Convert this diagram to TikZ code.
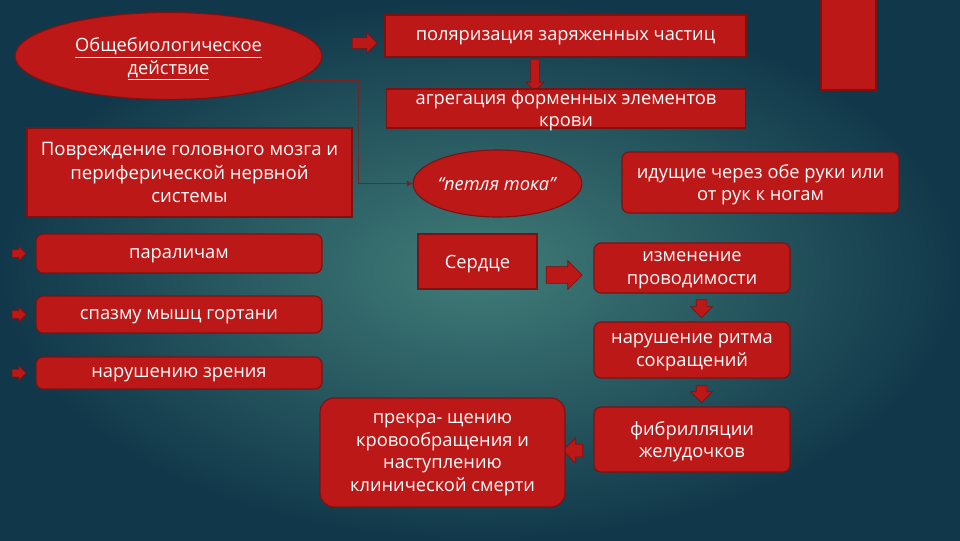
\documentclass[tikz,border=0pt]{standalone}
\usepackage{fontspec}
\setmainfont{Open Sans}
\usetikzlibrary{shapes.geometric, shapes.arrows, arrows.meta, positioning, calc}
\definecolor{boxred}{RGB}{188,24,24}
\definecolor{boxedge}{RGB}{125,18,18}
\definecolor{bginner}{RGB}{64,124,120}
\definecolor{bgouter}{RGB}{17,56,74}
\definecolor{linkred}{RGB}{120,35,35}
\newcommand{\pxu}{0.025cm}
\tikzset{
  wh/.style 2 args={minimum width=#1*\pxu, minimum height=#2*\pxu},
  redbox/.style={draw=boxedge, fill=boxred, line width=0.8pt, text=white, align=center, inner sep=0pt, text depth=-2.5pt, font=\fontsize{13}{16}\selectfont},
  roundbox/.style={redbox, rounded corners=5pt},
  redell/.style={redbox, ellipse},
  fatarrow/.style n args={3}{single arrow, fill=boxred, draw=boxedge, line width=0.5pt, inner xsep=0pt, inner ysep=#3*0.5*\pxu, minimum height=#1*\pxu, minimum width=#2*\pxu, single arrow head extend=(#2-#3)*0.5*\pxu},
  link/.style={draw=linkred, line width=0.6pt, -{Triangle[length=4pt,width=4pt]}}
}

\begin{document}
\begin{tikzpicture}[x=0.025cm, y=-0.025cm]
    % --- BACKGROUND ---
    \useasboundingbox (0,0) rectangle (960,540);
    \shade[inner color=bginner, outer color=bgouter] (0,0) rectangle (960,540);

    % --- TOP ROW ---
    \node[redell, wh={307}{87}] (bio) at (168.5,56) {\underline{Общебиологическое}\\\underline{действие}};
    \node[fatarrow={25}{20}{10}] (a1) at (362,43) {};
    \node[redbox, wh={361}{42}] (polar) at (565.5,36) {поляризация заряженных частиц};
    \node[fatarrow={32}{17}{8}, rotate=-90] (a2) at (535,73) {};
    \node[redbox, wh={359}{39}] (aggr) at (566,108.5) {агрегация форменных элементов\\крови};
    \node[redbox, wh={55}{92}] (bar) at (848.5,44) {};

    % --- NERVOUS SYSTEM ---
    \node[redbox, wh={325}{89}, font=\fontsize{13.2}{16.5}\selectfont] (brain) at (189.5,172.5) {Повреждение головного мозга и\\периферической нервной\\системы};
    \node[roundbox, wh={286}{39}] (paral) at (179,253.5) {параличам};
    \node[roundbox, wh={286}{37}] (spasm) at (179,314.5) {спазму мышц гортани};
    \node[roundbox, wh={286}{32}] (vision) at (179,373) {нарушению зрения};
    \foreach \n in {paral,spasm,vision}
        \node[fatarrow={14}{14}{7}, left=0.22cm of \n] (arr-\n) {};

    % --- CURRENT LOOP ---
    \node[redell, wh={165}{67}] (loop) at (497.5,183.5) {\textit{“петля тока”}};
    \node[roundbox, wh={277}{61}] (hands) at (760.5,182.5) {идущие через обе руки или\\от рук к ногам};
    \coordinate (bend) at (358,130);
    \draw[link] (bio.-11) -| (bend) |- (loop.west);

    % --- HEART CHAIN ---
    \node[redbox, wh={119}{55}] (heart) at (477.5,261.5) {Сердце};
    \node[fatarrow={36}{28}{16}] (a3) at (560,275) {};
    \node[roundbox, wh={196}{50}] (cond) at (692,268) {изменение\\проводимости};
    \node[fatarrow={18}{21}{10}, rotate=-90] (a4) at (701.5,306) {};
    \node[roundbox, wh={196}{56}] (rhythm) at (692,350) {нарушение ритма\\сокращений};
    \node[fatarrow={17}{21}{10}, rotate=-90] (a5) at (701.5,391.5) {};
    \node[roundbox, wh={196}{65}] (fibr) at (692,439.5) {фибрилляции\\желудочков};
    \node[fatarrow={20}{25}{12}, rotate=180] (a6) at (576,450.5) {};
    \node[roundbox, rounded corners=10pt, wh={245}{109}] (stop) at (442.5,452.5) {прекра- щению\\кровообращения и\\наступлению\\клинической смерти};
\end{tikzpicture}
\end{document}
